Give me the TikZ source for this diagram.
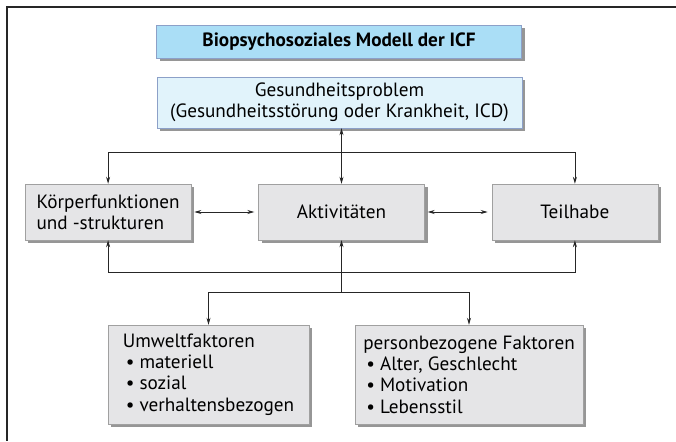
\documentclass[tikz,border=0pt]{standalone}
\usepackage{fontspec}
\setmainfont{PT Sans}
\usepackage{xcolor}
\usetikzlibrary{arrows.meta,positioning,shadows}
\definecolor{titleblue}{RGB}{170,222,246}
\definecolor{problue}{RGB}{225,243,251}
\definecolor{bluerim}{RGB}{140,160,200}
\definecolor{boxgray}{RGB}{229,229,231}
\definecolor{rimgray}{RGB}{160,160,160}
\definecolor{shadegray}{RGB}{150,150,150}
\tikzset{
  box/.style={draw=rimgray, fill=boxgray, align=center, minimum width=166pt,
              minimum height=56pt, inner sep=4pt,
              drop shadow={shadow xshift=3pt, shadow yshift=-3pt,
                           fill=shadegray, opacity=1}},
  headbox/.style={box, draw=bluerim, minimum width=365pt},
  listbox/.style={box, align=left, minimum height=99pt, inner xsep=8pt},
  flow/.style={-{Stealth[length=7pt,width=4pt]}, line width=0.8pt, draw=black!85},
  dflow/.style={{Stealth[length=7pt,width=4pt]}-{Stealth[length=7pt,width=4pt]},
                line width=0.8pt, draw=black!85},
}
\newcommand{\itm}{\hspace*{3pt}\textbullet\ }

\begin{document}
\begin{tikzpicture}[x=1pt, y=-1pt, font=\fontsize{19.2}{21.3}\selectfont]
  \useasboundingbox (0,0) rectangle (676,441);
  \draw[line width=1.4pt, black!85] (676,7) -- (7,7) -- (7,441);

  \node[headbox, fill=titleblue, minimum height=33pt, font=\fontsize{19.2}{21.3}\selectfont\bfseries]
    (title) at (339,41.5) {Biopsychosoziales Modell der ICF};
  \node[headbox, fill=problue, minimum height=51pt] (gesund) at (339.5,102.5)
    {Gesundheitsproblem\\ (Gesundheitsstörung oder Krankheit, ICD)};

  \node[box] (akt) at (341.5,212) {Aktivitäten};
  \node[box, align=left, left=67pt of akt] (koerper) {Körperfunktionen\\ und -strukturen};
  \node[box, right=67pt of akt] (teilhabe) {Teilhabe};

  \node[listbox, minimum width=201pt] (umwelt) at (208.5,374.5)
    {Umweltfaktoren\\ \itm materiell\\ \itm sozial\\ \itm verhaltensbezogen};
  \node[listbox, minimum width=226pt] (person) at (469,374.5)
    {personbezogene Faktoren\\ \itm Alter, Geschlecht\\ \itm Motivation\\ \itm Lebensstil};

  \coordinate (topbar) at (0,152);
  \coordinate (botbar) at (0,272);
  \coordinate (splitbar) at (0,292);

  % Gesundheitsproblem <-> Aktivitaeten, Verteilung oben
  \draw[dflow] (gesund.south -| akt.north) -- (akt.north);
  \draw[dflow] (koerper.north) -- (koerper.north |- topbar)
    -- (teilhabe.north |- topbar) -- (teilhabe.north);
  % Wechselwirkungen in der Mitte
  \draw[dflow, shorten <=3pt, shorten >=4pt] (koerper.east) -- (akt.west);
  \draw[dflow, shorten <=3pt, shorten >=4pt] (akt.east) -- (teilhabe.west);
  % Rueckkopplung unten
  \draw[dflow] (koerper.south) -- (koerper.south |- botbar)
    -- (teilhabe.south |- botbar) -- (teilhabe.south);
  \draw[flow] (akt.south |- splitbar) -- (akt.south);
  % Kontextfaktoren
  \draw[dflow] (umwelt.north) -- (umwelt.north |- splitbar)
    -- (person.north |- splitbar) -- (person.north);
\end{tikzpicture}
\end{document}
